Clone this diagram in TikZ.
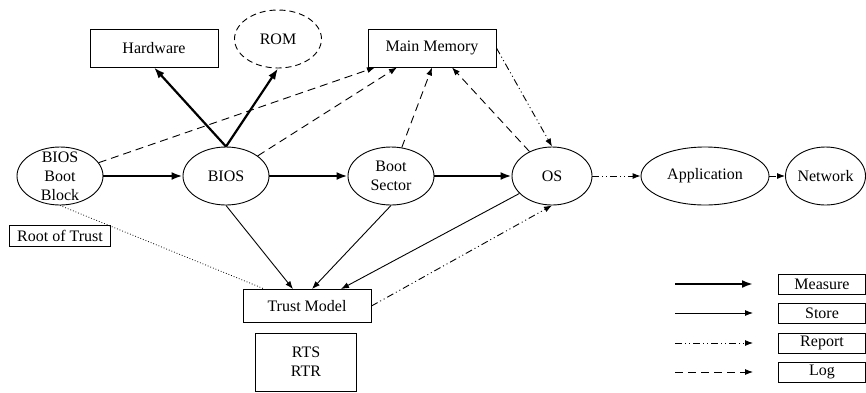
\documentclass[tikz,border=0pt]{standalone}
\usepackage{fontspec}
\setmainfont{Liberation Serif}
\usetikzlibrary{positioning, arrows.meta, shapes.geometric}

\begin{document}
\begin{tikzpicture}[
    x=1pt, y=-1pt,
    every node/.style={font=\fontsize{16}{19}\selectfont},
    stagenode/.style={
        ellipse,
        draw,
        line width=0.9pt,
        inner sep=0pt,
        align=center,
        minimum width=86pt,
        minimum height=58pt
    },
    partbox/.style={
        rectangle,
        draw,
        line width=0.9pt,
        inner sep=0pt,
        align=center,
        minimum width=128pt,
        minimum height=38pt
    },
    keybox/.style={
        rectangle,
        draw,
        line width=0.9pt,
        inner sep=0pt,
        minimum width=87pt,
        minimum height=20pt
    },
    measurearrow/.style={-{Latex[length=11pt, width=8pt]}, line width=2.2pt},
    storearrow/.style={-{Latex[length=8pt, width=6pt]}, line width=0.9pt},
    reportarrow/.style={-{Latex[length=8pt, width=6pt]}, line width=0.9pt,
        dash pattern=on 7pt off 3pt on 1pt off 3pt on 1pt off 3pt},
    logarrow/.style={-{Latex[length=8pt, width=6pt]}, line width=0.9pt,
        dash pattern=on 8pt off 5pt}
]
\useasboundingbox (0,0) rectangle (866,392);

% boot chain
\node[stagenode] (bb) at (60,176) {};
\node[align=center, inner sep=0pt] (bbtext) at (bb) {BIOS\\Boot\\Block};
\node[stagenode] (bios) at (226,176) {BIOS};
\node[stagenode] (bs) at (391,176) {Boot\\Sector};
\node[stagenode, minimum width=80pt] (os) at (552,176) {OS};
\node[stagenode, minimum width=128pt] (app) at (705,176) {Application};
\node[stagenode, minimum width=80pt] (net) at (825.5,176) {Network};

% measured parts
\node[partbox] (hw) at (154,48) {Hardware};
\node[stagenode, dash pattern=on 6pt off 4pt, minimum width=87pt] (rom) at (278,39) {ROM};
\node[partbox] (mm) at (432,48) {Main Memory};

% trust
\node[partbox, minimum width=101pt, minimum height=21pt] (rot) at (60,236) {Root of Trust};
\node[partbox, minimum height=33pt] (tm) at (307,306) {Trust Model};
\node[partbox, minimum width=101pt, minimum height=58pt] (rts) at (306,362) {RTS\\RTR};

% legend
\node[keybox] (kmeasure) at (822,284) {Measure};
\node[keybox] (kstore) at (822,313) {Store};
\node[keybox] (kreport) at (822,343) {Report};
\node[keybox] (klog) at (822,372) {Log};
\coordinate (ms) at (675,284);
\coordinate (me) at (753,284);
\coordinate (ss) at (675,313);
\coordinate (se) at (753,313);
\coordinate (rs) at (675,343);
\coordinate (re) at (753,343);
\coordinate (ls) at (675,372);
\coordinate (le) at (753,372);

\draw[measurearrow] (ms) -- (me);
\draw[storearrow] (ss) -- (se);
\draw[reportarrow] (rs) -- (re);
\draw[logarrow] (ls) -- (le);

% measure
\draw[measurearrow] (bb) -- (bios);
\draw[measurearrow] (bios) -- (bs);
\draw[measurearrow] (bs) -- (os);
\draw[measurearrow] (bios.north) -- (hw.south);
\draw[measurearrow] (bios.north) -- (rom.south);

% log
\draw[logarrow] (bb) -- ([xshift=-57pt]mm.south);
\draw[logarrow] (bios) -- ([xshift=-35pt]mm.south);
\draw[logarrow] (bs) -- (mm.south);
\draw[logarrow] (os) -- ([xshift=20pt]mm.south);

% report
\draw[reportarrow] (mm.east) -- (os.north);
\draw[reportarrow] (os) -- (app);
\draw[reportarrow] (app) -- (net);
\draw[reportarrow] (tm.east) -- (os.south);

% store
\draw[storearrow] (bios.south) -- ([xshift=-14pt]tm.north);
\draw[storearrow] (bs.south) -- ([xshift=5pt]tm.north);
\draw[storearrow] (os) -- ([xshift=34pt]tm.north);

\draw[dotted, line width=0.8pt] (bb.south) -- ([xshift=22pt]tm.north west);

\end{tikzpicture}
\end{document}
